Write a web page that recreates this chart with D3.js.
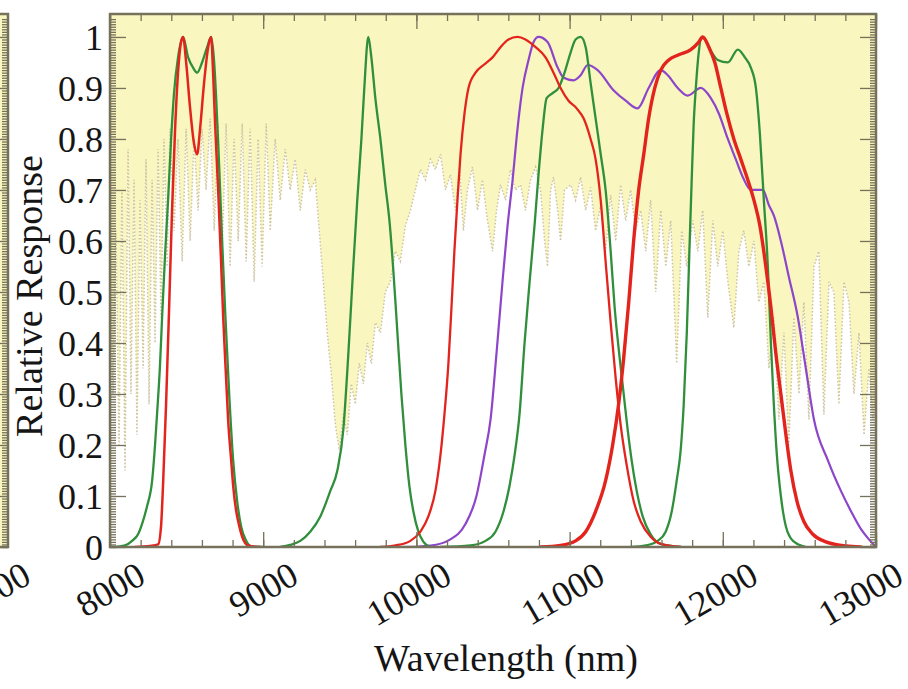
<!DOCTYPE html>
<html>
    <head>
        <meta charset="UTF-8">
        <script src="https://d3js.org/d3.v7.min.js"></script>

        <style>
            body {
                margin: 0;
                background: white;
            }

            svg {
                display: block;
                font-family: "Liberation Serif", "Times New Roman", serif;
            }

            .frame {
                fill: none;
                stroke: #75715a;
                stroke-width: 2.5px;
            }

            .tick line {
                stroke: #75715a;
                stroke-width: 1.3px;
            }

            .tick text, .panel-label {
                font-family: "Liberation Serif", "Times New Roman", serif;
                font-size: 36px;
                fill: #151515;
            }

            .title {
                font-family: "Liberation Serif", "Times New Roman", serif;
                font-size: 38px;
                fill: #151515;
            }

            .band {
                fill: none;
                stroke-linejoin: round;
                stroke-linecap: round;
            }

            .atm-line {
                fill: none;
                stroke: #bcb292;
                stroke-opacity: 0.75;
                stroke-width: 1.5px;
                stroke-dasharray: 1.5 2;
            }
        </style>
    </head>
    <body>
        <svg width="908" height="689"></svg>

        <script>

            // atmospheric transmission (white area below it, yellow above)
            const atmNm = [8000, 8020, 8039, 8059, 8078, 8098, 8118, 8137, 8157, 8176, 8196, 8216, 8235, 8255, 8275, 8294,
                8314, 8333, 8353, 8373, 8392, 8418, 8444, 8471, 8497, 8523, 8549, 8575, 8601, 8627, 8654, 8680, 8706, 8732,
                8758, 8784, 8810, 8837, 8863, 8889, 8915, 8941, 8967, 8993, 9020, 9046, 9078, 9111, 9144, 9176, 9209, 9242,
                9275, 9307, 9340, 9366, 9392, 9418, 9444, 9471, 9497, 9523, 9549, 9575, 9601, 9627, 9654, 9680, 9706, 9732,
                9765, 9797, 9830, 9863, 9895, 9928, 9961, 9993, 10026, 10059, 10092, 10124, 10157, 10190, 10222, 10255,
                10281, 10307, 10333, 10366, 10399, 10431, 10464, 10497, 10523, 10549, 10582, 10614, 10647, 10680, 10712,
                10745, 10778, 10810, 10837, 10856, 10876, 10895, 10922, 10941, 10967, 11007, 11039, 11072, 11105, 11137,
                11170, 11203, 11235, 11268, 11301, 11333, 11366, 11399, 11431, 11464, 11497, 11529, 11562, 11595, 11628,
                11660, 11699, 11732, 11765, 11804, 11837, 11869, 11902, 11935, 11967, 12000, 12033, 12072, 12105, 12137,
                12170, 12203, 12235, 12268, 12301, 12333, 12366, 12399, 12431, 12464, 12497, 12529, 12562, 12595, 12627,
                12660, 12693, 12725, 12758, 12791, 12824, 12856, 12889, 12922, 12954, 12980, 13000];
            const atmTrans = [0.55, 0.30, 0.62, 0.20, 0.70, 0.15, 0.78, 0.30, 0.72, 0.22, 0.68, 0.35, 0.76, 0.28, 0.72, 0.40,
                0.78, 0.45, 0.80, 0.55, 0.82, 0.62, 0.80, 0.56, 0.82, 0.60, 0.80, 0.66, 0.82, 0.70, 0.84, 0.62, 0.83, 0.58,
                0.83, 0.55, 0.80, 0.60, 0.83, 0.56, 0.82, 0.52, 0.80, 0.55, 0.83, 0.62, 0.80, 0.68, 0.78, 0.70, 0.76, 0.66,
                0.74, 0.70, 0.72, 0.62, 0.52, 0.42, 0.34, 0.24, 0.19, 0.26, 0.22, 0.32, 0.28, 0.36, 0.32, 0.40, 0.36, 0.44,
                0.42, 0.50, 0.52, 0.58, 0.56, 0.63, 0.66, 0.70, 0.74, 0.72, 0.76, 0.74, 0.77, 0.70, 0.73, 0.66,
                0.745, 0.62, 0.70, 0.745, 0.66, 0.72, 0.64, 0.58, 0.66, 0.71, 0.68, 0.74, 0.70, 0.71, 0.66,
                0.72, 0.745, 0.70, 0.60, 0.55, 0.70, 0.725, 0.66, 0.60, 0.70, 0.71, 0.68, 0.725, 0.66, 0.705,
                0.62, 0.67, 0.58, 0.69, 0.60, 0.71, 0.64, 0.70, 0.62, 0.66, 0.58, 0.68, 0.50, 0.66, 0.55,
                0.64, 0.36, 0.62, 0.55, 0.64, 0.58, 0.66, 0.45, 0.64, 0.55, 0.62, 0.52, 0.43, 0.58, 0.62,
                0.55, 0.60, 0.48, 0.52, 0.35, 0.45, 0.25, 0.42, 0.20, 0.45, 0.30, 0.48, 0.25, 0.55, 0.58,
                0.26, 0.52, 0.50, 0.28, 0.52, 0.48, 0.30, 0.42, 0.22, 0.35, 0.25, 0.30];

            // band responses
            const green1Nm = [8000, 8033, 8098, 8144, 8183, 8209, 8242, 8275, 8294, 8307, 8327, 8340, 8359, 8379, 8399, 8418,
                8444, 8477, 8510, 8542, 8569, 8601, 8634, 8660, 8680, 8693, 8712, 8732, 8752, 8778, 8804, 8830, 8856, 8889, 8928, 9000];
            const green1Resp = [0, 0, 0.003, 0.012, 0.025, 0.045, 0.08, 0.13, 0.2, 0.26, 0.36, 0.45, 0.57, 0.68, 0.8, 0.89,
                0.96, 1.0, 0.96, 0.94, 0.93, 0.95, 0.98, 1.0, 0.95, 0.88, 0.75, 0.6, 0.46, 0.3, 0.17, 0.09, 0.04, 0.012, 0, 0];

            const red1Nm = [8163, 8261, 8314, 8333, 8346, 8366, 8386, 8405, 8425, 8444, 8464, 8477, 8497, 8523, 8549, 8569,
                8588, 8614, 8641, 8660, 8673, 8686, 8706, 8725, 8739, 8758, 8771, 8791, 8804, 8824, 8837, 8863, 8902, 8980];
            const red1Resp = [0, 0.002, 0.005, 0.04, 0.12, 0.28, 0.47, 0.66, 0.82, 0.93, 0.99, 1.0, 0.95, 0.86, 0.79, 0.77,
                0.82, 0.91, 0.98, 1.0, 0.93, 0.83, 0.7, 0.56, 0.45, 0.33, 0.25, 0.17, 0.12, 0.07, 0.05, 0.02, 0.003, 0];

            const green2Nm = [9111, 9176, 9242, 9307, 9373, 9438, 9484, 9523, 9556, 9588, 9614, 9641, 9660, 9686, 9706, 9732,
                9765, 9797, 9824, 9850, 9876, 9902, 9928, 9954, 9980, 10013, 10046, 10092];
            const green2Resp = [0, 0.004, 0.012, 0.03, 0.06, 0.11, 0.15, 0.23, 0.38, 0.55, 0.68, 0.8, 0.9, 1.0, 0.96, 0.88,
                0.8, 0.71, 0.64, 0.54, 0.42, 0.3, 0.2, 0.12, 0.07, 0.03, 0.01, 0];

            const red2Nm = [9765, 9863, 9961, 10026, 10078, 10124, 10157, 10183, 10209, 10229, 10248, 10268, 10288, 10314,
                10340, 10386, 10438, 10497, 10549, 10601, 10660, 10712, 10778, 10843, 10895, 10941, 10993, 11046, 11092,
                11137, 11170, 11203, 11235, 11268, 11301, 11333, 11373, 11418, 11464, 11529, 11595, 11725];
            const red2Resp = [0, 0.003, 0.012, 0.03, 0.06, 0.11, 0.18, 0.26, 0.36, 0.47, 0.58, 0.68, 0.77, 0.85,
                0.9, 0.93, 0.945, 0.96, 0.98, 0.995, 1.0, 0.995, 0.98, 0.96, 0.93, 0.9, 0.875, 0.86, 0.84,
                0.8, 0.76, 0.68, 0.56, 0.44, 0.33, 0.24, 0.16, 0.09, 0.05, 0.02, 0.006, 0];

            const purpleNm = [8000, 9895, 10092, 10222, 10320, 10392, 10444, 10484, 10523, 10562, 10595, 10628, 10660, 10693,
                10732, 10765, 10797, 10856, 10922, 10961, 11026, 11072, 11118, 11183, 11288, 11366, 11444, 11516, 11595,
                11641, 11706, 11771, 11856, 11922, 11974, 12033, 12085, 12131, 12183, 12261, 12301, 12333, 12379, 12431,
                12490, 12542, 12595, 12686, 12771, 12837, 12902, 12954, 13000];
            const purpleResp = [0, 0, 0.003, 0.015, 0.045, 0.1, 0.18, 0.25, 0.38, 0.52, 0.63, 0.72, 0.82, 0.9,
                0.955, 0.99, 1.0, 0.99, 0.94, 0.92, 0.915, 0.925, 0.945, 0.935, 0.895, 0.875, 0.86, 0.9, 0.935,
                0.925, 0.9, 0.885, 0.9, 0.88, 0.85, 0.8, 0.76, 0.725, 0.7, 0.7, 0.67, 0.65, 0.6, 0.53,
                0.45, 0.35, 0.25, 0.17, 0.11, 0.07, 0.035, 0.015, 0];

            const green3Nm = [10157, 10353, 10451, 10516, 10569, 10608, 10641, 10673, 10706, 10739, 10771, 10797, 10824,
                10850, 10889, 10928, 10967, 11007, 11039, 11072, 11105, 11137, 11170, 11203, 11235, 11268, 11294, 11327,
                11353, 11379, 11405, 11438, 11477, 11529, 11595, 11725];
            const green3Resp = [0, 0.003, 0.012, 0.03, 0.07, 0.12, 0.18, 0.26, 0.4, 0.52, 0.63, 0.73, 0.82,
                0.88, 0.89, 0.9, 0.93, 0.97, 0.995, 1.0, 0.98, 0.91, 0.84, 0.77, 0.7, 0.58, 0.47, 0.37,
                0.3, 0.23, 0.17, 0.11, 0.06, 0.025, 0.006, 0];

            const green4Nm = [11399, 11497, 11575, 11627, 11667, 11699, 11725, 11745, 11765, 11784, 11797, 11810, 11824,
                11843, 11863, 11895, 11928, 11967, 12033, 12098, 12144, 12183, 12216, 12242, 12268, 12294, 12314, 12333,
                12353, 12379, 12412, 12458, 12543];
            const green4Resp = [0, 0.003, 0.012, 0.03, 0.07, 0.13, 0.19, 0.28, 0.42, 0.6, 0.72, 0.83, 0.9,
                0.97, 1.0, 0.99, 0.97, 0.955, 0.95, 0.975, 0.96, 0.94, 0.9, 0.81, 0.68, 0.55, 0.4, 0.28,
                0.18, 0.1, 0.04, 0.012, 0];

            const red3Nm = [10810, 10941, 11039, 11105, 11170, 11235, 11281, 11320, 11353, 11386, 11418, 11451, 11484, 11516,
                11556, 11595, 11647, 11713, 11791, 11843, 11869, 11909, 11948, 11987, 12026, 12072, 12118, 12163, 12203,
                12242, 12281, 12314, 12346, 12379, 12412, 12444, 12484, 12529, 12588, 12673, 12804, 12902];
            const red3Resp = [0, 0.003, 0.012, 0.03, 0.07, 0.13, 0.2, 0.28, 0.37, 0.48, 0.6, 0.7, 0.77, 0.84,
                0.9, 0.935, 0.955, 0.965, 0.975, 0.99, 1.0, 0.98, 0.95, 0.9, 0.85, 0.8, 0.76, 0.72, 0.68,
                0.63, 0.55, 0.47, 0.38, 0.3, 0.22, 0.15, 0.09, 0.05, 0.025, 0.01, 0.002, 0];

            // axis ticks
            const xTickValues = [8000, 9000, 10000, 11000, 12000, 13000];
            const yTickValues = [0, 0.1, 0.2, 0.3, 0.4, 0.5, 0.6, 0.7, 0.8, 0.9, 1];
            const yTickLabels = ["0", "0.1", "0.2", "0.3", "0.4", "0.5", "0.6", "0.7", "0.8", "0.9", "1"];
            const prevPanelLabel = "7000";

            const RED = "#e3241d", GREEN = "#2f8f3b", PURPLE = "#8d45c9";
            const YELLOW = "#f9f6c0";

            function zip (nm, values) {
                return nm.map((w, i) => [w, values[i]]);
            }

            function drawGraph () {
                const width = 908, height = 689;
                const margin = { top: 14, right: 32, bottom: 142, left: 110 };

                const svg = d3.select("svg")
                    .attr("viewBox", `0 0 ${width} ${height}`);

                const x = d3.scaleLinear()
                    .domain([8000, 13000])
                    .range([margin.left, width - margin.right]);

                const y = d3.scaleLinear()
                    .domain([0, 1.045])
                    .range([height - margin.bottom, margin.top]);

                const x0 = x.range()[0], x1 = x.range()[1];
                const y0 = y.range()[0], y1 = y.range()[1];

                svg.append("clipPath")
                    .attr("id", "plot-clip")
                    .append("rect")
                        .attr("x", x0).attr("y", y1)
                        .attr("width", x1 - x0).attr("height", y0 - y1);

                // previous panel peeking in on the left
                svg.append("rect")
                    .attr("x", -20).attr("y", y1)
                    .attr("width", 28).attr("height", y0 - y1)
                    .attr("fill", YELLOW);

                svg.append("g")
                    .attr("transform", "translate(8,0)")
                    .call(d3.axisRight(y).tickValues(d3.range(0, 1.04, 0.005)).tickSize(-6).tickFormat(""));
                svg.append("g")
                    .attr("transform", "translate(8,0)")
                    .call(d3.axisRight(y).tickValues(yTickValues).tickSize(-16).tickFormat(""));

                svg.append("line")
                    .attr("x1", -20).attr("x2", 8)
                    .attr("y1", y0).attr("y2", y0)
                    .attr("stroke", RED).attr("stroke-width", 2);

                svg.append("path")
                    .attr("class", "frame")
                    .attr("d", `M-20,${y1}H8V${y0}H-20`);

                svg.append("text")
                    .attr("class", "panel-label")
                    .attr("text-anchor", "end")
                    .attr("transform", `translate(${8 + 25},${y0 + 35}) rotate(-30)`)
                    .text(prevPanelLabel);

                // main panel background
                const plot = svg.append("g").attr("clip-path", "url(#plot-clip)");

                plot.append("rect")
                    .attr("x", x0).attr("y", y1)
                    .attr("width", x1 - x0).attr("height", y0 - y1)
                    .attr("fill", YELLOW);

                const atm = zip(atmNm, atmTrans);

                plot.append("path")
                    .datum(atm)
                    .attr("fill", "white")
                    .attr("d", d3.area()
                        .x(d => x(d[0]))
                        .y0(y(0))
                        .y1(d => y(d[1])));

                plot.append("path")
                    .datum(atm)
                    .attr("class", "atm-line")
                    .attr("d", d3.line()
                        .x(d => x(d[0]))
                        .y(d => y(d[1])));

                // response curves
                const bands = [
                    { nm: purpleNm, resp: purpleResp, color: PURPLE, w: 2.2 },
                    { nm: green1Nm, resp: green1Resp, color: GREEN, w: 2.3 },
                    { nm: green2Nm, resp: green2Resp, color: GREEN, w: 2.3 },
                    { nm: green3Nm, resp: green3Resp, color: GREEN, w: 2.3 },
                    { nm: green4Nm, resp: green4Resp, color: GREEN, w: 2.3 },
                    { nm: red1Nm, resp: red1Resp, color: RED, w: 2.5 },
                    { nm: red2Nm, resp: red2Resp, color: RED, w: 2.3 },
                    { nm: red3Nm, resp: red3Resp, color: RED, w: 3.4 }
                ];

                const line = d3.line()
                    .x(d => x(d[0]))
                    .y(d => y(d[1]))
                    .curve(d3.curveMonotoneX);

                plot.append("g")
                    .selectAll("path")
                    .data(bands)
                    .join("path")
                        .attr("class", "band")
                        .attr("stroke", d => d.color)
                        .attr("stroke-width", d => d.w)
                        .attr("d", d => line(zip(d.nm, d.resp)));

                // ticks
                const minorX = d3.range(8000, 13001, 200);
                const minorY = d3.range(0, 1.04, 0.005);

                svg.append("g")
                    .attr("transform", `translate(0,${y0})`)
                    .call(d3.axisBottom(x).tickValues(minorX).tickSize(-7).tickFormat(""));
                svg.append("g")
                    .attr("transform", `translate(0,${y1})`)
                    .call(d3.axisTop(x).tickValues(minorX).tickSize(-7).tickFormat(""));
                svg.append("g")
                    .attr("transform", `translate(0,${y1})`)
                    .call(d3.axisTop(x).tickValues(xTickValues).tickSize(-15).tickFormat(""));

                const xAxis = svg.append("g")
                    .attr("transform", `translate(0,${y0})`)
                    .call(d3.axisBottom(x).tickValues(xTickValues).tickSize(-15).tickFormat(d => d));

                xAxis.selectAll("text")
                    .attr("x", 0).attr("y", 0).attr("dy", 0)
                    .attr("text-anchor", "end")
                    .attr("transform", d => `translate(${d === 13000 ? 29 : 37},35) rotate(-30)`);

                svg.append("g")
                    .attr("transform", `translate(${x0},0)`)
                    .call(d3.axisLeft(y).tickValues(minorY).tickSize(-6).tickFormat(""));
                svg.append("g")
                    .attr("transform", `translate(${x1},0)`)
                    .call(d3.axisRight(y).tickValues(minorY).tickSize(-6).tickFormat(""));
                svg.append("g")
                    .attr("transform", `translate(${x1},0)`)
                    .call(d3.axisRight(y).tickValues(yTickValues).tickSize(-16).tickFormat(""));

                svg.append("g")
                    .attr("transform", `translate(${x0},0)`)
                    .call(d3.axisLeft(y).tickValues(yTickValues).tickSize(-16).tickPadding(7)
                        .tickFormat((d, i) => yTickLabels[i]))
                    .selectAll("text")
                        .attr("dy", "0.35em");

                svg.selectAll(".domain").remove();
                svg.selectAll("g").attr("font-family", null).attr("font-size", null);

                svg.append("rect")
                    .attr("class", "frame")
                    .attr("x", x0).attr("y", y1)
                    .attr("width", x1 - x0).attr("height", y0 - y1);

                // titles
                svg.append("text")
                    .attr("class", "title")
                    .attr("text-anchor", "middle")
                    .attr("x", 506).attr("y", 671)
                    .text("Wavelength (nm)");

                svg.append("text")
                    .attr("class", "title")
                    .attr("text-anchor", "middle")
                    .attr("transform", "translate(42,296) rotate(-90)")
                    .text("Relative Response");
            }

            drawGraph();

        </script>
    </body>
</html>
